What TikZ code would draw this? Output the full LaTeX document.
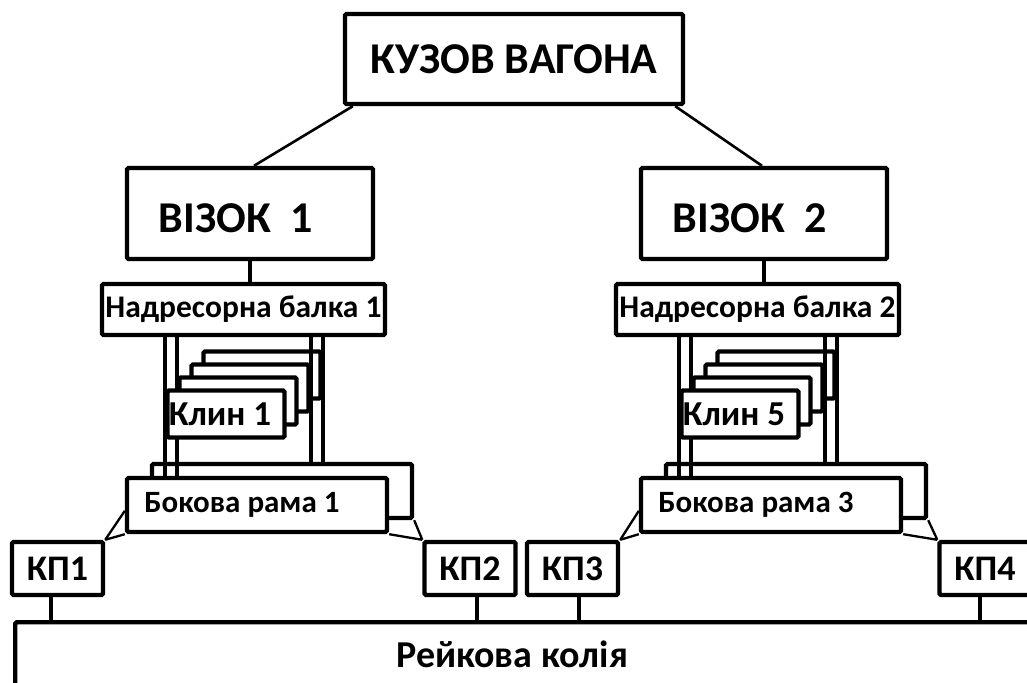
\documentclass[tikz,border=0pt]{standalone}
\usepackage{fontspec}
\setmainfont{Carlito}
\usetikzlibrary{calc,backgrounds}

\tikzset{
	blk/.style={draw, line width=4.4pt, fill=white, inner sep=0pt, rounded corners=1.5pt},
	bar/.style={line width=4pt},
	lnk/.style={line width=2.6pt},
	thin link/.style={line width=2.3pt},
	tbig/.style={font=\fontsize{44}{46}\selectfont\bfseries},
	tmid/.style={font=\fontsize{31.5}{33}\selectfont\bfseries},
	tkl/.style={font=\fontsize{35}{37}\selectfont\bfseries},
	tsm/.style={font=\fontsize{31}{33}\selectfont\bfseries},
	tkp/.style={font=\fontsize{36}{38}\selectfont\bfseries},
	trail/.style={font=\fontsize{38}{40}\selectfont\bfseries},
}

\begin{document}
\begin{tikzpicture}[x=1pt,y=-1pt]
		\useasboundingbox (0,0) rectangle (1027,682);
		\clip (0,0) rectangle (1027,682);

		\node[blk, tbig, minimum width=338pt, minimum height=90pt] at (514,59)(kuzov){КУЗОВ ВАГОНА};

		\node[blk, minimum width=246pt, minimum height=91pt,
			label={[tbig, xshift=-14pt, yshift=-5pt]center:ВІЗОК\ \ 1}] at (250,213.5)(viz1){};
		\node[blk, minimum width=246pt, minimum height=91pt,
			label={[tbig, xshift=-14pt, yshift=-5pt]center:ВІЗОК\ \ 2}] at (764,213.5)(viz2){};

		\node[blk, tmid, minimum width=283pt, minimum height=51pt] at (243.5,309.5)(nb1){Надресорна балка 1};
		\node[blk, tmid, minimum width=283pt, minimum height=51pt] at (757.5,309.5)(nb2){Надресорна балка 2};

		\node[blk, minimum width=117pt, minimum height=47pt] at (262,375)(kl4){};
		\node[blk, minimum width=117pt, minimum height=47pt] at (250,388)(kl3){};
		\node[blk, minimum width=117pt, minimum height=47pt] at (238,401)(kl2){};
		\node[blk, minimum width=117pt, minimum height=47pt,
			label={[tkl, xshift=-6pt]center:Клин 1}] at (226,414)(kl1){};

		\node[blk, minimum width=117pt, minimum height=47pt] at (776,375)(kl8){};
		\node[blk, minimum width=117pt, minimum height=47pt] at (764,388)(kl7){};
		\node[blk, minimum width=117pt, minimum height=47pt] at (752,401)(kl6){};
		\node[blk, minimum width=117pt, minimum height=47pt,
			label={[tkl, xshift=-6pt]center:Клин 5}] at (740,414)(kl5){};

		\node[blk, fill=none, minimum width=260pt, minimum height=54pt] at (282,491)(br2){};
		\node[blk, minimum width=260pt, minimum height=54pt,
			label={[tsm, xshift=-15pt]center:Бокова рама 1}] at (257,505)(br1){};
		\node[blk, fill=none, minimum width=260pt, minimum height=54pt] at (796,491)(br4){};
		\node[blk, minimum width=260pt, minimum height=54pt,
			label={[tsm, xshift=-15pt]center:Бокова рама 3}] at (771,505)(br3){};

		\node[blk, tkp, minimum width=91pt, minimum height=53pt] at (57.5,568.5)(kp1){КП1};
		\node[blk, tkp, minimum width=91pt, minimum height=53pt] at (470,568.5)(kp2){КП2};
		\node[blk, tkp, minimum width=91pt, minimum height=53pt] at (572.5,568.5)(kp3){КП3};
		\node[blk, tkp, minimum width=91pt, minimum height=53pt] at (985,568.5)(kp4){КП4};

		\node[blk, minimum width=1100pt, minimum height=120pt, anchor=north west] at (13,620)(rail){};
		\node[trail, anchor=base] at (512,667)(railt){Рейкова колія};

		\draw[lnk] ([xshift=10pt]kuzov.south west) -- ([xshift=4pt]viz1.north);
		\draw[lnk] ([xshift=-10pt]kuzov.south east) -- ([xshift=-2pt]viz2.north);
		\draw[bar] (viz1.south) -- (viz1.south |- nb1.north);
		\draw[bar] (viz2.south) -- (viz2.south |- nb2.north);

		\begin{scope}[on background layer]
			\draw[bar] (kl1.west |- nb1.south) -- (kl1.west |- br1.north);
			\draw[bar] (kl2.west |- nb1.south) -- (kl2.west |- br1.north);
			\draw[bar] (kl5.west |- nb2.south) -- (kl5.west |- br3.north);
			\draw[bar] (kl6.west |- nb2.south) -- (kl6.west |- br3.north);
		\end{scope}
		\draw[bar] (kl3.east |- nb1.south) -- (kl3.east |- br2.north);
		\draw[bar] (kl4.east |- nb1.south) -- (kl4.east |- br2.north);
		\draw[bar] (kl7.east |- nb2.south) -- (kl7.east |- br4.north);
		\draw[bar] (kl8.east |- nb2.south) -- (kl8.east |- br4.north);

		\draw[thin link] (kp1.north east) -- (br1.south west)
			(kp1.north east) -- ($(br1.north west)!0.6!(br1.south west)$);
		\draw[thin link] (kp2.north west) -- (br1.south east)
			(kp2.north west) -- (br2.south east);
		\draw[thin link] (kp3.north east) -- (br3.south west)
			(kp3.north east) -- ($(br3.north west)!0.6!(br3.south west)$);
		\draw[thin link] (kp4.north west) -- (br3.south east)
			(kp4.north west) -- (br4.south east);

		\draw[bar] ([xshift=-7pt]kp1.south) -- ([xshift=-7pt]kp1.south |- rail.north);
		\draw[bar] ([xshift=7pt]kp2.south) -- ([xshift=7pt]kp2.south |- rail.north);
		\draw[bar] ([xshift=6.5pt]kp3.south) -- ([xshift=6.5pt]kp3.south |- rail.north);
		\draw[bar] ([xshift=-5pt]kp4.south) -- ([xshift=-5pt]kp4.south |- rail.north);
	\end{tikzpicture}
\end{document}
